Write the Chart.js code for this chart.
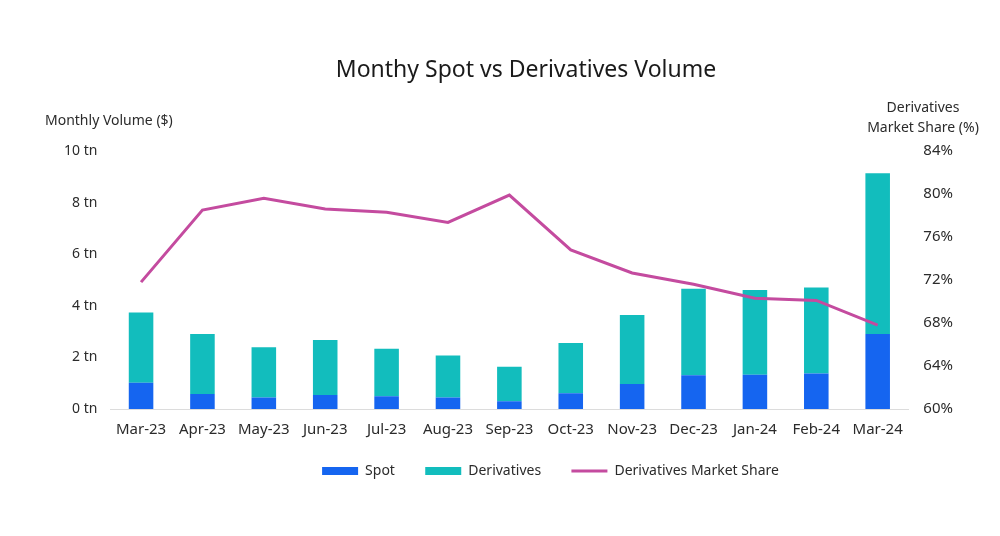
<!DOCTYPE html>
<html>
<head>
<meta charset="utf-8">
<script src="https://cdn.jsdelivr.net/npm/chart.js@4.4.1/dist/chart.umd.min.js"></script>
<style>
html,body{margin:0;padding:0;background:#fff;}
#wrap{width:1000px;height:536px;position:relative;}
</style>
</head>
<body>
<div id="wrap"><canvas id="c" width="1000" height="536"></canvas></div>
<script>
const categories = ["Mar-23","Apr-23","May-23","Jun-23","Jul-23","Aug-23","Sep-23","Oct-23","Nov-23","Dec-23","Jan-24","Feb-24","Mar-24"];
const spot = [1.02,0.58,0.45,0.54,0.49,0.45,0.30,0.61,0.97,1.31,1.33,1.38,2.91];
const derivatives = [2.72,2.33,1.94,2.13,1.85,1.62,1.34,1.95,2.67,3.35,3.28,3.33,6.23];
const marketShare = [71.8,78.5,79.6,78.6,78.3,77.35,79.9,74.8,72.65,71.6,70.3,70.1,67.8];
const leftTicks = [0,2,4,6,8,10];
const rightTicks = [60,64,68,72,76,80,84];

const FONT = "'Noto Sans', sans-serif";
const TXT = "#2b2b2b";
const LEGEND_ORDER = ['Spot','Derivatives','Derivatives Market Share'];
const LEGEND_SUFFIX = ['\u2002\u2002\u2009', '\u2002\u2002\u2009', ''];

const textPlugin = {
  id: 'texts',
  afterLayout(chart) {
    // shift the legend row so it is centred like the original
    chart.legend.left += 41;
    chart.legend.right += 41;
  },
  afterDraw(chart) {
    const ctx = chart.ctx;
    ctx.save();
    ctx.fillStyle = "#1a1a1a";
    ctx.textBaseline = "middle";
    ctx.textAlign = "center";
    ctx.font = "23px " + FONT;
    ctx.fillText("Monthy Spot vs Derivatives Volume", 526, 70);
    ctx.fillStyle = TXT;
    ctx.font = "14px " + FONT;
    ctx.textAlign = "left";
    ctx.fillText("Monthly Volume ($)", 45, 121);
    ctx.textAlign = "center";
    ctx.fillText("Derivatives", 923, 108);
    ctx.fillText("Market Share (%)", 923, 128);
    ctx.restore();
  }
};

new Chart(document.getElementById('c'), {
  data: {
    labels: categories,
    datasets: [
      { type: 'line', label: 'Derivatives Market Share', data: marketShare, yAxisID: 'y1',
        borderColor: '#c44b9f', backgroundColor: '#c44b9f', borderWidth: 3, pointRadius: 0,
        tension: 0, order: 0 },
      { type: 'bar', label: 'Spot', data: spot, yAxisID: 'y', stack: 's',
        backgroundColor: '#1565f0', order: 1, barPercentage: 0.8, categoryPercentage: 0.5 },
      { type: 'bar', label: 'Derivatives', data: derivatives, yAxisID: 'y', stack: 's',
        backgroundColor: '#12bdbd', order: 1, barPercentage: 0.8, categoryPercentage: 0.5 }
    ]
  },
  options: {
    responsive: false,
    animation: false,
    devicePixelRatio: 1,
    layout: { padding: { top: 151, left: 51, right: 32, bottom: 48 } },
    plugins: {
      title: { display: false },
      tooltip: { enabled: false },
      legend: {
        position: 'bottom',
        labels: {
          usePointStyle: true,
          pointStyleWidth: 36,
          boxHeight: 8,
          padding: 14,
          color: TXT,
          font: { family: FONT, size: 14 },
          generateLabels(chart) {
            const items = Chart.defaults.plugins.legend.labels.generateLabels(chart);
            items.forEach(it => {
              const ds = chart.data.datasets[it.datasetIndex];
              it.pointStyle = ds.type === 'line' ? 'line' : 'rect';
              it.lineWidth = ds.type === 'line' ? 3 : 0;
              it.strokeStyle = ds.type === 'line' ? ds.borderColor : ds.backgroundColor;
              it._order = LEGEND_ORDER.indexOf(it.text);
              it.text = it.text + LEGEND_SUFFIX[it._order];
            });
            items.sort((a, b) => a._order - b._order);
            return items;
          }
        }
      }
    },
    scales: {
      x: {
        stacked: true,
        grid: { display: false, drawTicks: false },
        border: { display: true, color: '#dcdcdc', width: 1 },
        ticks: { color: TXT, font: { family: FONT, size: 15, lineHeight: 1 }, padding: 13, maxRotation: 0, autoSkip: false }
      },
      y: {
        stacked: true,
        position: 'left',
        min: 0, max: 10,
        afterBuildTicks(scale) { scale.ticks = leftTicks.map(v => ({ value: v })); },
        grid: { display: false, drawTicks: false },
        border: { display: false },
        ticks: { color: TXT, font: { family: FONT, size: 14 }, padding: 13,
          callback: v => v + ' tn' }
      },
      y1: {
        position: 'right',
        min: 60, max: 84,
        afterBuildTicks(scale) { scale.ticks = rightTicks.map(v => ({ value: v })); },
        grid: { display: false, drawTicks: false },
        border: { display: false },
        ticks: { color: TXT, font: { family: FONT, size: 15 }, padding: 15,
          callback: v => v + '%' }
      }
    }
  },
  plugins: [textPlugin]
});
</script>
</body>
</html>
